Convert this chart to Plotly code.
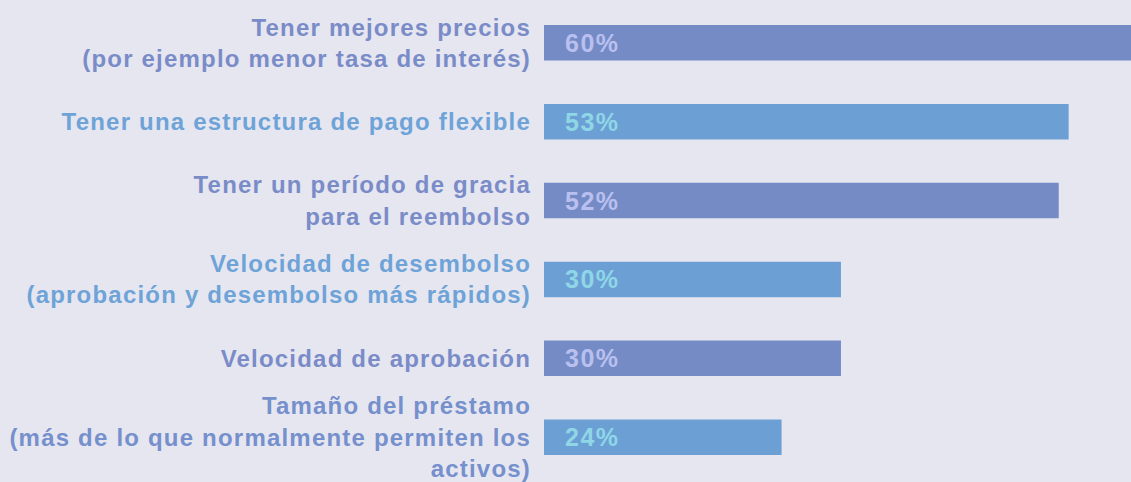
import plotly.graph_objects as go

# Survey items (top to bottom) and share of respondents
categories = [
    "Tener mejores precios<br>(por ejemplo menor tasa de interés)",
    "Tener una estructura de pago flexible",
    "Tener un período de gracia<br>para el reembolso",
    "Velocidad de desembolso<br>(aprobación y desembolso más rápidos)",
    "Velocidad de aprobación",
    "Tamaño del préstamo<br>(más de lo que normalmente permiten los<br>activos)",
]
values = [60, 53, 52, 30, 30, 24]

PURPLE = "#758bc5"
BLUE = "#6ca0d5"
bar_colors = [PURPLE, BLUE, PURPLE, BLUE, PURPLE, BLUE]
label_colors = ["#7a8cc8", "#6ea3d8", "#7a8cc8", "#6ea3d8", "#7a8cc8", "#7590cc"]
value_colors = ["#b9c0f0", "#8fd6e6", "#b9c0f0", "#8fd6e6", "#b9c0f0", "#8fd6e6"]

FONT = "Liberation Sans, Arial, sans-serif"


def styled(text, color, spacing):
    return "<br>".join(
        f'<span style="color:{color};letter-spacing:{spacing}px">{line}</span>'
        for line in text.split("<br>")
    )


ids = list(range(len(categories)))

fig = go.Figure(
    go.Bar(
        x=values,
        y=ids,
        orientation="h",
        marker=dict(color=bar_colors, line=dict(width=0)),
        width=0.45,
        hoverinfo="skip",
    )
)

for i, (v, c) in enumerate(zip(values, value_colors)):
    fig.add_annotation(
        x=0, y=i, xref="x", yref="y",
        text=f"<b>{styled(f'{v}%', c, 1.5)}</b>",
        showarrow=False,
        xanchor="left", yanchor="middle",
        xshift=19,
        font=dict(family=FONT, size=25, color=c),
    )

fig.update_layout(
    width=1131,
    height=482,
    margin=dict(l=544, r=0, t=0, b=0),
    paper_bgcolor="#e6e6f0",
    plot_bgcolor="#e6e6f0",
    showlegend=False,
    xaxis=dict(
        range=[0, 59.3],
        visible=False,
        fixedrange=True,
    ),
    yaxis=dict(
        range=[5.543, -0.543],
        tickmode="array",
        tickvals=ids,
        ticktext=[f"<b>{styled(t, c, 1.2)}</b>" for t, c in zip(categories, label_colors)],
        ticks="",
        ticklabelstandoff=12,
        ticklabeloverflow="allow",
        showgrid=False,
        zeroline=False,
        showline=False,
        tickfont=dict(family=FONT, size=24, color="#7a8cc8"),
        fixedrange=True,
    ),
)

fig.write_html("out.html", config={"displayModeBar": False})
